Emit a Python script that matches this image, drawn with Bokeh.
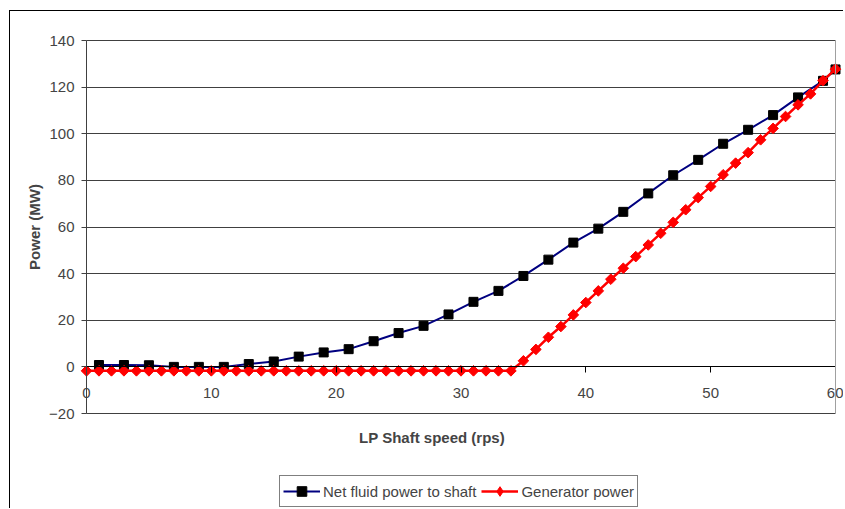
import numpy as np
from bokeh.plotting import figure
from bokeh.layouts import column
from bokeh.models import (LinearAxis, FixedTicker, Legend, LegendItem, Range1d, Title)
from bokeh.embed import file_html
from bokeh.resources import INLINE

# ---- data ----
net_x = [1, 3, 5, 7, 9, 11, 13, 15, 17, 19, 21, 23, 25, 27, 29, 31, 33, 35, 37, 39,
         41, 43, 45, 47, 49, 51, 53, 55, 57, 59, 60]
net_y = [0.8, 0.8, 0.7, 0.0, 0.0, 0.0, 1.2, 2.3, 4.4, 6.2, 7.6, 11.0, 14.5, 17.6, 22.5,
         27.9, 32.6, 39.0, 46.0, 53.3, 59.3, 66.5, 74.4, 82.2, 88.8, 95.7, 101.7, 108.0,
         115.6, 122.7, 127.6]
gen_x = list(range(0, 61))
gen_y = [-1.7] * 35 + [2.6, 7.5, 12.7, 17.3, 22.3, 27.6, 32.6, 37.6, 42.3, 47.3, 52.3,
                       57.3, 62.0, 67.4, 72.6, 77.4, 82.4, 87.4, 91.9, 97.4, 102.3,
                       107.4, 112.4, 117.1, 122.8, 127.7]
x_ticks = [0, 10, 20, 30, 40, 50, 60]
y_ticks = [-20, 0, 20, 40, 60, 80, 100, 120, 140]
series_names = ["Net fluid power to shaft", "Generator power"]

X_MIN, X_MAX = 0, 60
Y_MIN, Y_MAX = -20, 140

FONT = "Liberation Sans"
NET_LINE = dict(line_color="#000080", line_width=2)
NET_MARK = dict(marker="square", size=9, fill_color="black", line_color="black")
GEN_LINE = dict(line_color="#ff0000", line_width=2.5)
GEN_MARK = dict(marker="square", angle=np.pi / 4, size=7.5, fill_color="#ff0000",
                line_color="#ff0000")
GEN_MARK_KEY = dict(marker="diamond", size=13, fill_color="#ff0000", line_color="#ff0000")

# plot area: 749 px for x 0..60, 373 px for y -20..140; the frame is padded so
# that the end tick labels and the y-axis labels are not clipped
PX_PER_X = 749 / (X_MAX - X_MIN)
PX_PER_Y = 373 / (Y_MAX - Y_MIN)
PAD_L, PAD_R, PAD_T, PAD_B = 66, 8, 8, 8

p = figure(width=833, height=455, output_backend="svg", toolbar_location=None,
           x_range=Range1d(X_MIN - PAD_L / PX_PER_X, X_MAX + PAD_R / PX_PER_X),
           y_range=Range1d(Y_MIN - PAD_B / PX_PER_Y, Y_MAX + PAD_T / PX_PER_Y),
           x_axis_location=None, y_axis_location=None,
           min_border_left=10, min_border_right=0, min_border_top=21, min_border_bottom=45)

p.outline_line_color = None
p.xgrid.visible = False
p.ygrid.ticker = FixedTicker(ticks=y_ticks)
p.ygrid.grid_line_color = "#404040"
p.ygrid.grid_line_width = 1
p.ygrid.cross_bounds = (X_MIN, X_MAX)

# y axis at x = 0
ya = LinearAxis(fixed_location=X_MIN, ticker=FixedTicker(ticks=y_ticks), bounds=(Y_MIN, Y_MAX))
ya.axis_label = "Power (MW)"
ya.axis_label_text_font = FONT
ya.axis_label_text_font_style = "bold"
ya.axis_label_text_font_size = "15px"
ya.axis_label_standoff = 3
ya.major_label_text_font = FONT
ya.major_label_text_font_size = "15px"
ya.major_label_standoff = 7
ya.major_tick_out = 5
ya.major_tick_in = 0
ya.minor_tick_out = 0
ya.minor_tick_in = 0
ya.axis_line_color = "#404040"
ya.major_tick_line_color = "#404040"
p.add_layout(ya, "left")

# right border of the plot area
yr = LinearAxis(fixed_location=X_MAX, ticker=FixedTicker(ticks=[]), bounds=(Y_MIN, Y_MAX))
yr.axis_line_color = "#a0a0a0"
yr.major_label_text_font_size = "0px"
yr.major_tick_line_color = None
yr.minor_tick_line_color = None
p.add_layout(yr, "right")

# x axis crossing at y = 0
x0 = LinearAxis(fixed_location=0, ticker=FixedTicker(ticks=x_ticks), bounds=(X_MIN, X_MAX))
x0.axis_line_color = "black"
x0.major_tick_line_color = "black"
x0.major_tick_out = 6
x0.major_tick_in = 0
x0.minor_tick_out = 0
x0.minor_tick_in = 0
x0.major_label_text_font = FONT
x0.major_label_text_font_size = "15px"
x0.major_label_standoff = 15
p.add_layout(x0, "below")

# x axis title, centred under the 0..60 plot area
x_title = Title(text="LP Shaft speed (rps)", align="center", offset=(PAD_L - PAD_R) / 2,
                text_font=FONT, text_font_style="bold", text_font_size="15px",
                text_color="#444444", standoff=10)
p.add_layout(x_title, "below")

# series
p.line(net_x, net_y, **NET_LINE)
p.scatter(net_x, net_y, **NET_MARK)
p.line(gen_x, gen_y, **GEN_LINE)
p.scatter(gen_x, gen_y, **GEN_MARK)

# legend strip below the chart (same series, kept out of its view)
lf = figure(width=833, height=42, output_backend="svg", toolbar_location=None,
            x_range=Range1d(1000, 1001), y_range=Range1d(1000, 1001),
            x_axis_location=None, y_axis_location=None,
            min_border_left=0, min_border_right=0, min_border_top=0, min_border_bottom=0)
lf.outline_line_color = None
lf.xgrid.visible = False
lf.ygrid.visible = False
k1 = lf.line(net_x, net_y, **NET_LINE)
k2 = lf.scatter(net_x, net_y, **NET_MARK)
k3 = lf.line(gen_x, gen_y, **GEN_LINE)
k4 = lf.scatter(gen_x, gen_y, **GEN_MARK_KEY)

legend = Legend(items=[LegendItem(label=series_names[0], renderers=[k1, k2]),
                       LegendItem(label=series_names[1], renderers=[k3, k4])],
                orientation="horizontal", location=(259, 1),
                border_line_color="black", border_line_width=1,
                label_text_font=FONT, label_text_font_size="15px",
                glyph_width=37, glyph_height=24, label_standoff=3,
                spacing=5, padding=3, margin=0, label_height=24)
lf.add_layout(legend, "center")

page = column(p, lf, spacing=0)
page.styles = {"margin-left": "9px", "margin-top": "10px",
               "border-left": "1px solid black", "border-top": "1px solid black"}

open("out.html", "w").write(file_html(page, INLINE))
